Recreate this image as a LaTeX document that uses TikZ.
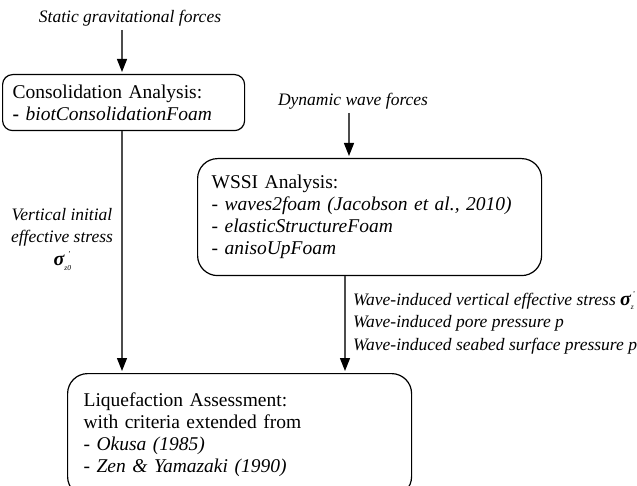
\documentclass[tikz,border=0pt]{standalone}
\usepackage{fontspec}
\setmainfont{Liberation Serif}
\usetikzlibrary{arrows.meta}
\newcommand\mysig[2]{{\fontsize{20}{20}\selectfont\bfseries\itshape σ}\rlap{\raisebox{-0.6ex}{\fontsize{7.5}{7.5}\selectfont\itshape #1}}\kern#2\raisebox{1.1ex}{\fontsize{7.5}{7.5}\selectfont '}}
\begin{document}
\begin{tikzpicture}[x=1pt,y=-1pt,
  box/.style={draw=black, line width=1.2pt, anchor=north west, align=left, inner ysep=0pt,
    font=\fontsize{19.5}{22}\selectfont},
  lab/.style={font=\fontsize{17.5}{22.5}\selectfont\itshape, inner sep=0pt},
  arr/.style={draw=black!70, line width=1.2pt, -{Triangle[width=10pt,length=13pt,color=black]}, shorten >=2pt}]
\useasboundingbox (0,0) rectangle (637,486);
\clip (0,0) rectangle (637,486);
% boxes
\node[box, rounded corners=10pt, inner xsep=10pt, text width=222pt, minimum height=56pt] (cons) at (2,74)
  {Consolidation Analysis:\\\textbf{-} \textit{biotConsolidationFoam}};
\node[box, rounded corners=20pt, inner xsep=14pt, text width=316pt, minimum height=117pt] (wssi) at (197,158)
  {WSSI Analysis:\\- \textit{waves2foam (Jacobson et al., 2010)}\\- \textit{elasticStructureFoam}\\- \textit{anisoUpFoam}};
\node[box, rounded corners=20pt, inner xsep=16pt, text width=312pt, minimum height=123pt] (liq) at (67,373)
  {Liquefaction Assessment:\\with criteria extended from\\- \textit{Okusa (1985)}\\- \textit{Zen \& Yamazaki (1990)}};
% labels
\node[lab, anchor=base] (static) at (130,23) {Static gravitational forces};
\node[lab, anchor=base] (dyn) at (353,106) {Dynamic wave forces};
\node[lab, anchor=north, align=center] (vlab) at (62,208)
  {Vertical initial\\effective stress\\\mysig{z0}{3.5pt}};
\node[lab, anchor=north west, align=left] (wlab) at (353,291)
  {Wave-induced vertical effective stress \mysig{z}{1.5pt}\\Wave-induced pore pressure \textit{p}\\Wave-induced seabed surface pressure \textit{p}\textsubscript{b}};
% connectors
\coordinate (s1) at (122,30);
\coordinate (d1) at (349,113);
\coordinate (d2) at (345,0);
\draw[arr] (s1) -- (s1 |- cons.north);
\draw[arr] (cons.south -| s1) -- (s1 |- liq.north);
\draw[arr] (d1) -- (d1 |- wssi.north);
\draw[arr] (d2 |- wssi.south) -- (d2 |- liq.north);
\end{tikzpicture}
\end{document}
